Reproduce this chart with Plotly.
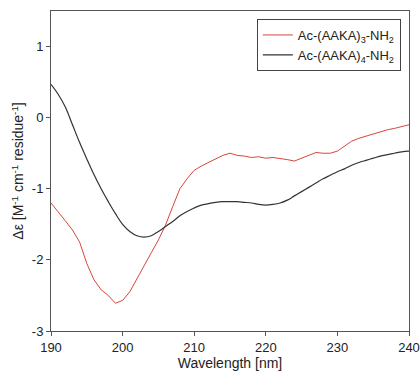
import plotly.graph_objects as go

wavelength = list(range(190, 241))

ac_aaka3 = [-1.20, -1.32, -1.45, -1.58, -1.75, -2.05, -2.28, -2.42, -2.50, -2.61,
            -2.57, -2.45, -2.26, -2.08, -1.90, -1.72, -1.51, -1.25, -1.00, -0.86,
            -0.74, -0.68, -0.63, -0.57, -0.53, -0.50, -0.53, -0.54, -0.56, -0.55,
            -0.57, -0.56, -0.57, -0.59, -0.61, -0.57, -0.53, -0.49, -0.50, -0.50,
            -0.47, -0.40, -0.33, -0.29, -0.26, -0.22, -0.20, -0.17, -0.15, -0.13,
            -0.10]

ac_aaka4 = [0.47, 0.33, 0.15, -0.10, -0.35, -0.58, -0.80, -1.00, -1.18, -1.35,
            -1.50, -1.60, -1.66, -1.68, -1.66, -1.60, -1.53, -1.46, -1.38, -1.32,
            -1.27, -1.23, -1.21, -1.19, -1.18, -1.18, -1.18, -1.19, -1.20, -1.22,
            -1.23, -1.22, -1.20, -1.16, -1.10, -1.04, -0.98, -0.92, -0.86, -0.81,
            -0.76, -0.72, -0.67, -0.63, -0.60, -0.57, -0.54, -0.52, -0.50, -0.48,
            -0.47]

x_ticks = [190, 200, 210, 220, 230, 240]
y_ticks = [-3, -2, -1, 0, 1]
y_tick_labels = ["-3", "-2", "-1", "0", "1"]

fig = go.Figure()
fig.add_trace(go.Scatter(x=wavelength, y=ac_aaka3, mode="lines",
                         name="Ac-(AAKA)<sub>3</sub>-NH<sub>2</sub>",
                         line=dict(color="#d9463b", width=1)))
fig.add_trace(go.Scatter(x=wavelength, y=ac_aaka4, mode="lines",
                         name="Ac-(AAKA)<sub>4</sub>-NH<sub>2</sub>",
                         line=dict(color="#333333", width=1.2, shape="spline")))

axis_common = dict(showline=True, linecolor="#555555", linewidth=1, mirror=True,
                   ticks="outside", ticklen=4, tickcolor="#555555",
                   showgrid=False, zeroline=False, automargin=False,
                   tickfont=dict(family="Liberation Sans, Arial", size=13, color="#222222"))

fig.update_layout(
    width=420, height=375,
    margin=dict(l=51, r=11, t=11, b=44, autoexpand=False),
    plot_bgcolor="white", paper_bgcolor="white",
    font=dict(family="Liberation Sans, Arial", size=13, color="#222222"),
    xaxis=dict(range=[190, 240], tickvals=x_ticks,
               title=dict(text="Wavelength [nm]", standoff=2,
                          font=dict(size=14)), **axis_common),
    yaxis=dict(range=[-3, 1.5], tickvals=y_ticks, ticktext=y_tick_labels,
               title=dict(text="Δε [M<sup>-1</sup> cm<sup>-1</sup> residue<sup>-1</sup>]",
                          standoff=4, font=dict(size=14)), **axis_common),
    legend=dict(x=0.575, y=0.975, xanchor="left", yanchor="top",
                bordercolor="#444444", borderwidth=1, bgcolor="white",
                font=dict(size=13), tracegroupgap=0, itemwidth=30),
    showlegend=True,
)

# remove the default page margin so the 420x375 figure fills the window exactly
fig.write_html("out.html",
               config={"displayModeBar": False},
               post_script="document.body.style.margin='0';"
                           "document.body.style.overflow='hidden';")
